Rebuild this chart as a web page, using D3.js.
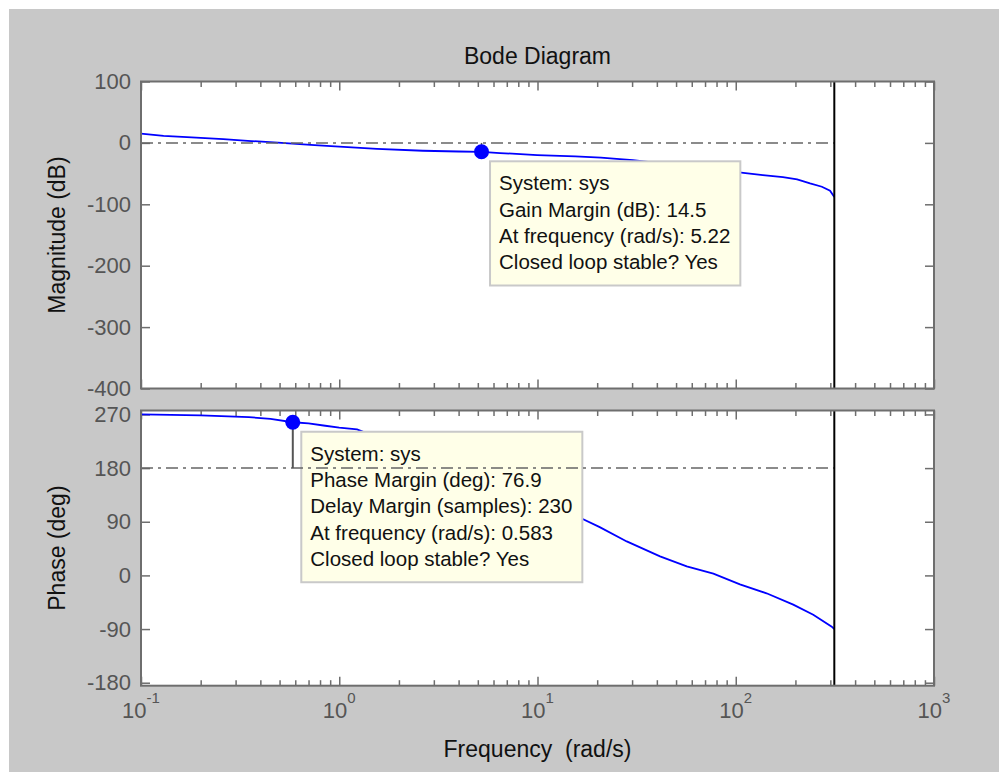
<!DOCTYPE html>
<meta charset="utf-8">
<script src="https://d3js.org/d3.v7.min.js"></script>
<style>
  body { margin: 0; background: #fff; }
  text { font-family: "Liberation Sans", Arial, Helvetica, sans-serif; }
</style>
<div id="bode"></div>
<script>

// magnitude curve (rad/s, dB)
var magFreq = [0.1, 0.13, 0.18, 0.26, 0.36, 0.49, 0.75, 1.05, 1.55, 2.64, 4.0, 5.22, 6.47, 9.96, 15.5, 20.9, 26, 30.3, 137, 173, 204, 237, 272, 299, 314.16];
var magDb   = [15, 11.5, 9, 6, 3, 0.5, -3.5, -6.5, -9.8, -12.8, -14, -14.5, -16.5, -19.8, -22, -24, -26.5, -28, -52.5, -55.7, -59.5, -66, -71.4, -78, -88];

// phase curve (rad/s, deg)
var phaseFreq = [0.1, 0.2, 0.35, 0.45, 0.583, 0.7, 0.85, 1.0, 1.23, 16.1, 20.6, 28.2, 41.5, 56.6, 77.1, 105, 143, 195, 246, 305, 314.16];
var phaseDeg  = [270, 268.5, 265.5, 262.5, 256.9, 255, 251, 248, 245, 98, 81, 57, 32, 15, 3, -15, -30, -49, -66, -86, -90];

var magTicks = [100, 0, -100, -200, -300, -400];
var phaseTicks = [270, 180, 90, 0, -90, -180];
var decades = [-1, 0, 1, 2, 3];
var nyquist = 314.16;

var gm = { freq: 5.22, level: 0, value: -14.5 };
var pm = { freq: 0.583, level: 180, value: 256.9 };

var gmLines = ["System: sys", "Gain Margin (dB): 14.5", "At frequency (rad/s): 5.22", "Closed loop stable? Yes"];
var pmLines = ["System: sys", "Phase Margin (deg): 76.9", "Delay Margin (samples): 230", "At frequency (rad/s): 0.583", "Closed loop stable? Yes"];

var W = 999, H = 772;
var left = 141, right = 934;
var magTop = 81.5, magBottom = 388.5;
var phTop = 410.5, phBottom = 685.7;

var svg = d3.select("#bode")
  .append("svg")
    .attr("width", W)
    .attr("height", H);

svg.append("rect")
    .attr("x", 9).attr("y", 9)
    .attr("width", W - 9).attr("height", H - 9)
    .attr("fill", "#c8c8c8");

var x = d3.scaleLog()
  .domain([0.1, 1000])
  .range([left, right]);

var yMag = d3.scaleLinear()
  .domain([-400, 100])
  .range([magBottom, magTop]);

var yPh = d3.scaleLinear()
  .domain([-185, 276.6])
  .range([phBottom, phTop]);

var majors = decades.map(function(d) { return Math.pow(10, d); });
var minors = [];
decades.slice(0, -1).forEach(function(d) {
  for (var k = 2; k <= 9; k++) minors.push(k * Math.pow(10, d));
});

var axisColor = "#6e6e6e";

function styleAxis(g) {
  g.attr("color", axisColor);
  g.select(".domain").remove();
  g.selectAll(".tick line").attr("stroke-width", 1.5);
}

function drawPanel(y, ticks, top, bottom) {
  var g = svg.append("g");

  g.append("rect")
      .attr("x", left).attr("y", top)
      .attr("width", right - left).attr("height", bottom - top)
      .attr("fill", "#fff");

  // x ticks, top and bottom, pointing inward
  [[majors, 9], [minors, 5.5]].forEach(function(t) {
    g.append("g")
        .attr("transform", "translate(0," + bottom + ")")
        .call(d3.axisBottom(x).tickValues(t[0]).tickSize(-t[1]).tickFormat(""))
        .call(styleAxis);
    g.append("g")
        .attr("transform", "translate(0," + top + ")")
        .call(d3.axisTop(x).tickValues(t[0]).tickSize(-t[1]).tickFormat(""))
        .call(styleAxis);
  });

  // y ticks left (with labels) and right
  var yl = g.append("g")
      .attr("transform", "translate(" + left + ",0)")
      .call(d3.axisLeft(y).tickValues(ticks).tickSize(-9).tickPadding(10)
        .tickFormat(function(d) { return String(d); }))
      .call(styleAxis);
  yl.attr("font-family", null);
  yl.selectAll("text")
      .attr("font-size", 22)
      .attr("fill", "#555");

  g.append("g")
      .attr("transform", "translate(" + right + ",0)")
      .call(d3.axisRight(y).tickValues(ticks).tickSize(-9).tickFormat(""))
      .call(styleAxis);

  return g;
}

function drawFrame(g, top, bottom) {
  g.append("rect")
      .attr("x", left).attr("y", top)
      .attr("width", right - left).attr("height", bottom - top)
      .attr("fill", "none")
      .attr("stroke", axisColor)
      .attr("stroke-width", 2);
}

function drawTip(g, mx, my, lines) {
  var tip = g.append("g")
      .attr("transform", "translate(" + (mx + 8.5) + "," + (my + 9.5) + ")");
  var box = tip.append("rect")
      .attr("fill", "#ffffe8")
      .attr("stroke", "#c9c9c9")
      .attr("stroke-width", 2);
  var txt = tip.append("text")
      .attr("font-size", 20.5)
      .attr("fill", "#111");
  txt.selectAll("tspan")
    .data(lines)
    .enter()
    .append("tspan")
      .attr("x", 9)
      .attr("y", function(d, i) { return 29 + i * 26.3; })
      .text(function(d) { return d; });
  var bb = txt.node().getBBox();
  box.attr("width", bb.width + 19)
     .attr("height", lines.length * 26.3 + 19);
}

var dashed = "12,5,3,5";

// ---------- magnitude ----------
var gMag = drawPanel(yMag, magTicks, magTop, magBottom);

gMag.append("path")
    .datum(d3.zip(magFreq, magDb))
    .attr("fill", "none")
    .attr("stroke", "#0000ff")
    .attr("stroke-width", 1.8)
    .attr("d", d3.line()
      .x(function(d) { return x(d[0]); })
      .y(function(d) { return yMag(d[1]); }));

drawTip(gMag, x(gm.freq), yMag(gm.value), gmLines);

gMag.append("line")
    .attr("x1", x(0.1)).attr("x2", x(nyquist))
    .attr("y1", yMag(gm.level)).attr("y2", yMag(gm.level))
    .attr("stroke", "#666")
    .attr("stroke-width", 1.5)
    .attr("stroke-dasharray", dashed);

gMag.append("line")
    .attr("x1", x(gm.freq)).attr("x2", x(gm.freq))
    .attr("y1", yMag(gm.level)).attr("y2", yMag(gm.value))
    .attr("stroke", "#555")
    .attr("stroke-width", 1.5);

gMag.append("circle")
    .attr("cx", x(gm.freq))
    .attr("cy", yMag(gm.value))
    .attr("r", 7.5)
    .attr("fill", "#0000ff");

gMag.append("line")
    .attr("x1", x(nyquist)).attr("x2", x(nyquist))
    .attr("y1", magTop).attr("y2", magBottom)
    .attr("stroke", "#000")
    .attr("stroke-width", 2);

drawFrame(gMag, magTop, magBottom);

// ---------- phase ----------
var gPh = drawPanel(yPh, phaseTicks, phTop, phBottom);

gPh.append("path")
    .datum(d3.zip(phaseFreq, phaseDeg))
    .attr("fill", "none")
    .attr("stroke", "#0000ff")
    .attr("stroke-width", 1.8)
    .attr("d", d3.line()
      .x(function(d) { return x(d[0]); })
      .y(function(d) { return yPh(d[1]); }));

drawTip(gPh, x(pm.freq), yPh(pm.value), pmLines);

gPh.append("line")
    .attr("x1", x(0.1)).attr("x2", x(nyquist))
    .attr("y1", yPh(pm.level)).attr("y2", yPh(pm.level))
    .attr("stroke", "#666")
    .attr("stroke-width", 1.5)
    .attr("stroke-dasharray", dashed);

gPh.append("line")
    .attr("x1", x(pm.freq)).attr("x2", x(pm.freq))
    .attr("y1", yPh(pm.level)).attr("y2", yPh(pm.value))
    .attr("stroke", "#555")
    .attr("stroke-width", 2);

gPh.append("circle")
    .attr("cx", x(pm.freq))
    .attr("cy", yPh(pm.value))
    .attr("r", 7.5)
    .attr("fill", "#0000ff");

gPh.append("line")
    .attr("x1", x(nyquist)).attr("x2", x(nyquist))
    .attr("y1", phTop).attr("y2", phBottom)
    .attr("stroke", "#000")
    .attr("stroke-width", 2);

drawFrame(gPh, phTop, phBottom);

// x tick labels 10^n
var xl = svg.append("g")
    .attr("font-size", 22)
    .attr("fill", "#555")
    .attr("text-anchor", "middle");
xl.selectAll("text")
  .data(decades)
  .enter()
  .append("text")
    .attr("x", function(d) { return x(Math.pow(10, d)); })
    .attr("y", 718)
    .each(function(d) {
      var t = d3.select(this);
      t.append("tspan").text("10");
      t.append("tspan")
          .attr("dy", -15)
          .attr("font-size", 15)
          .text(String(d));
    });

// titles
svg.append("text")
    .attr("x", (left + right) / 2)
    .attr("y", 64)
    .attr("text-anchor", "middle")
    .attr("font-size", 23)
    .attr("fill", "#111")
    .text("Bode Diagram");

svg.append("text")
    .attr("x", (left + right) / 2)
    .attr("y", 757)
    .attr("text-anchor", "middle")
    .attr("font-size", 23)
    .attr("fill", "#111")
    .style("white-space", "pre")
    .text("Frequency  (rad/s)");

svg.append("text")
    .attr("transform", "translate(65," + (magTop + magBottom) / 2 + ") rotate(-90)")
    .attr("text-anchor", "middle")
    .attr("font-size", 23)
    .attr("fill", "#111")
    .text("Magnitude (dB)");

svg.append("text")
    .attr("transform", "translate(65," + (phTop + phBottom) / 2 + ") rotate(-90)")
    .attr("text-anchor", "middle")
    .attr("font-size", 23)
    .attr("fill", "#111")
    .text("Phase (deg)");

</script>
